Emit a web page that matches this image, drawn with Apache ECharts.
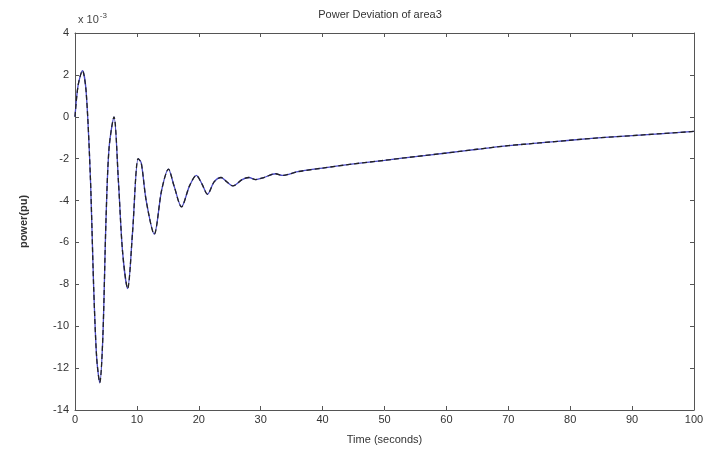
<!DOCTYPE html>
<html><head><meta charset="utf-8">
<script src="https://cdn.jsdelivr.net/npm/echarts@6/dist/echarts.min.js"></script>
<style>html,body{margin:0;padding:0;background:#fff}#c{width:708px;height:456px}</style>
</head><body><div id="c"></div>
<script>
var timeValues = [0,0.5,1.2,1.8,2.5,3.0,3.5,4.0,4.5,5.0,5.5,6.3,7.0,7.7,8.5,9.3,10.2,10.7,11.5,12.8,14.0,15.1,16.0,17.2,18.5,19.6,20.5,21.4,22.5,23.6,24.5,25.5,27.0,28.1,29.2,30.5,32.4,33.5,36,40,45,50,55,60,65,70,75,80,85,90,95,100];
var powerValues = [0,1.5,2.2,1.2,-3.0,-8.0,-11.5,-12.7,-10.5,-5.0,-1.5,0,-3.0,-6.5,-8.2,-5.5,-2.0,-2.2,-4.0,-5.6,-3.5,-2.5,-3.3,-4.3,-3.3,-2.8,-3.2,-3.7,-3.1,-2.9,-3.1,-3.3,-3.0,-2.9,-3.0,-2.9,-2.72,-2.8,-2.62,-2.45,-2.25,-2.08,-1.9,-1.73,-1.55,-1.38,-1.25,-1.12,-1.0,-0.9,-0.8,-0.70];
var xTicks = [0,10,20,30,40,50,60,70,80,90,100];
var yTicks = [-14,-12,-10,-8,-6,-4,-2,0,2,4];

var pts = timeValues.map(function(t,i){return [t, powerValues[i]];});
var chart = echarts.init(document.getElementById('c'));
var font = 'Liberation Sans, Arial, sans-serif';
var axisColor = '#555';
chart.setOption({
  animation:false,
  backgroundColor:'#fff',
  title:{text:'Power Deviation of area3',left:375,top:4,textAlign:'center',
    textStyle:{fontFamily:font,fontSize:11,fontWeight:'normal',color:'#333'}},
  graphic:[{type:'text',left:78,top:12,style:{
    text:'{a|x 10}{b|-3}',
    rich:{a:{fontFamily:font,fontSize:11,fill:'#444'},b:{fontFamily:font,fontSize:8,fill:'#444',verticalAlign:'top',padding:[0,0,8,1]}}}}],
  grid:{left:75,right:14,top:33,bottom:46,containLabel:false},
  xAxis:[{type:'value',position:'bottom',min:xTicks[0],max:xTicks[xTicks.length-1],interval:10,
    name:'Time (seconds)',nameLocation:'middle',nameGap:24,
    nameTextStyle:{fontFamily:font,fontSize:11,color:'#333'},
    axisLine:{show:true,onZero:false,lineStyle:{color:axisColor}},axisTick:{inside:true,length:4,lineStyle:{color:axisColor}},
    axisLabel:{fontFamily:font,fontSize:11,color:'#333',margin:4},splitLine:{show:false}},
   {type:'value',position:'top',min:0,max:100,interval:10,
    axisLine:{show:true,onZero:false,lineStyle:{color:axisColor}},axisTick:{inside:true,length:4,lineStyle:{color:axisColor}},
    axisLabel:{show:false},splitLine:{show:false}}],
  yAxis:[{type:'value',position:'left',min:yTicks[0],max:yTicks[yTicks.length-1],interval:2,
    name:'power(pu)',nameLocation:'middle',nameGap:46,nameRotate:90,
    nameTextStyle:{fontFamily:font,fontSize:11,fontWeight:'bold',color:'#333'},
    axisLine:{show:true,onZero:false,lineStyle:{color:axisColor}},axisTick:{show:true,inside:true,length:4,lineStyle:{color:axisColor}},
    axisLabel:{fontFamily:font,fontSize:11,color:'#333',margin:6},splitLine:{show:false}},
   {type:'value',position:'right',min:-14,max:4,interval:2,
    axisLine:{show:true,onZero:false,lineStyle:{color:axisColor}},axisTick:{show:true,inside:true,length:4,lineStyle:{color:axisColor}},
    axisLabel:{show:false},splitLine:{show:false}}],
  series:[
    {type:'line',data:pts,showSymbol:false,smooth:0.3,lineStyle:{color:'#4a4ac8',width:1.3},z:2},
    {type:'line',data:pts,showSymbol:false,smooth:0.3,lineStyle:{color:'#222',width:1.3,type:[5,3]},z:3}
  ]
});
</script></body></html>
